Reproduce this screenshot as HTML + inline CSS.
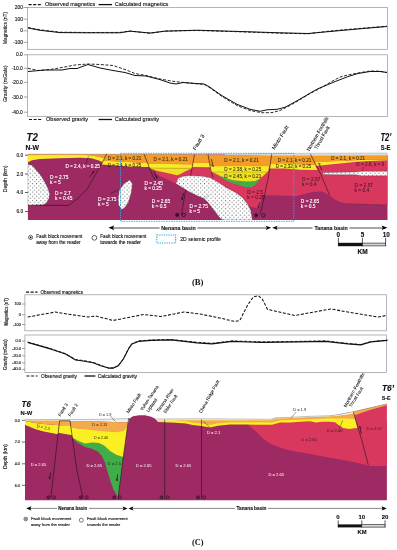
<!DOCTYPE html>
<html lang="en">
<head>
<meta charset="utf-8">
<title>Gravity and magnetic models T2 and T6</title>
<style>
html,body{margin:0;padding:0;background:#fff;}
body{width:397px;height:550px;overflow:hidden;}
svg{display:block;}
text{font-family:"Liberation Sans",sans-serif;fill:#111;stroke:#111;stroke-width:0.12px;}
.t{font-size:4.85px;}

.w{fill:#fff;stroke:#fff;}
.k{fill:#2a2116;stroke:#2a2116;stroke-width:0.06px;}
.m{fill:#47122c;stroke:#47122c;stroke-width:0.06px;}
.leg{font-size:5.6px;}
.tick{font-size:4.9px;text-anchor:end;}
.ax{font-size:5.3px;text-anchor:middle;}
.b{font-weight:bold;}
.flt{font-size:4.5px;fill:#000;stroke-width:0.06px;}
.ser{font-family:"Liberation Serif",serif;font-size:8.8px;text-anchor:middle;font-weight:bold;stroke-width:0;}
.f{fill:none;stroke:#111;stroke-width:0.55;}
.c{fill:none;stroke:#111;stroke-width:1;stroke-linejoin:round;}
.d{fill:none;stroke:#111;stroke-width:0.9;stroke-dasharray:3 1.6;stroke-linejoin:round;}
.box{fill:none;stroke:#959595;stroke-width:0.7;}
</style>
</head>
<body>
<svg width="397" height="550" viewBox="0 0 397 550">
<defs>
<pattern id="dots" width="4.2" height="4.2" patternUnits="userSpaceOnUse">
<rect width="4.2" height="4.2" fill="#fff"/>
<circle cx="1" cy="1" r="0.48" fill="#3a3a3a"/>
<circle cx="3.1" cy="3.1" r="0.48" fill="#3a3a3a"/>
</pattern>
<clipPath id="clipB"><rect x="27.7" y="150" width="359.8" height="70"/></clipPath>
<clipPath id="clipC"><rect x="25" y="395" width="361.9" height="105.3"/></clipPath>
</defs>
<rect width="397" height="550" fill="#fff"/>

<!-- ============ PANEL B : magnetics ============ -->
<g id="magB">
<path class="d" d="M28.6 4.6H42" style="stroke-width:1.2"/>
<text class="leg" x="45" y="6.4" textLength="50.2" lengthAdjust="spacingAndGlyphs">Observed magnetics</text>
<path class="c" d="M98.6 4.6H112" style="stroke-width:1.3"/>
<text class="leg" x="114.8" y="6.4" textLength="53.6" lengthAdjust="spacingAndGlyphs">Calculated magnetics</text>
<rect class="box" x="27.4" y="7.5" width="360.1" height="41.8"/>
<path class="f" d="M23.6 7.5H27.4M23.6 19.2H27.4M23.6 30.8H27.4M23.6 42.3H27.4" style="stroke:#666;stroke-width:0.6"/>
<text class="tick" x="23" y="9">200</text>
<text class="tick" x="23" y="20.7">100</text>
<text class="tick" x="23" y="32.3">0</text>
<text class="tick" x="23" y="43.8">-100</text>
<text class="ax" transform="translate(6.8 28) rotate(-90)" textLength="32" lengthAdjust="spacingAndGlyphs">Magnetics (nT)</text>
<path class="c" d="M28 28L40 30.3L60 32.6L90 32.8L120 32.8L130 31.2L150 33L165 31.2L197 30.2L240 31.5L280 32.8L308 33.5L330 31.5L360 28.8L387 26.5"/>
<path class="d" d="M28 27.5L40 29.8L60 32.2L90 32.5L120 32.4L130 31L150 33.3L165 31L197 30.5L240 31.8L280 33.2L308 33.8L330 31L360 28.4L387 26.2"/>
</g>

<!-- ============ PANEL B : gravity ============ -->
<g id="gravB">
<rect class="box" x="27.4" y="54.8" width="360.1" height="61.6"/>
<path class="f" d="M24 54.8H27.4M24 68.2H27.4M24 82.4H27.4M24 97H27.4M24 112.2H27.4" style="stroke:#666;stroke-width:0.6"/>
<text class="tick" x="22.8" y="56.4">0.0</text>
<text class="tick" x="22.8" y="69.8">-10.0</text>
<text class="tick" x="22.8" y="84">-20.0</text>
<text class="tick" x="22.8" y="98.6">-30.0</text>
<text class="tick" x="22.8" y="113.8">-40.0</text>
<text class="ax" transform="translate(7.4 83.8) rotate(-90)" textLength="36.5" lengthAdjust="spacingAndGlyphs">Gravity (mGals)</text>
<path class="c" d="M28 71.5L45 70L62 70L70 68.5L77 68.5L88 64.5L100 68L113 70.5L125 72.5L135 75.5L146 76L160 79.6L170 83L176 84L183 82.5L197 83.6L204 84L209 86.6L222 95.7L237 104.3L250 109.3L260 111.3L267 109.8L277 109.3L285 107.3L297 100.8L310 93.2L318 88.7L335 81.6L348 76.6L358 73.5L370 71.5L380 71.5L387 72.5"/>
<path class="d" d="M28 68.3L38 70.5L50 69.5L62 67.5L75 65L88 64L100 64.5L113 65.5L125 69.5L135 73.5L146 75.5L160 79L175 81.6L197 83.8L204 84.3L209 87.2L222 96.5L237 105.5L250 110.5L262 112.8L272 112.6L280 110.5L288 106.5L297 101.5L310 93.5L318 89.5L330 82.5L340 77L348 75L358 73L370 71L380 71.2L387 72.5"/>
<path class="d" d="M29 119.5H42" style="stroke-width:1.2"/>
<text class="leg" x="46" y="121.3" textLength="42" lengthAdjust="spacingAndGlyphs">Observed gravity</text>
<path class="c" d="M98.6 119.5H112" style="stroke-width:1.3"/>
<text class="leg" x="114.8" y="121.3" textLength="44.2" lengthAdjust="spacingAndGlyphs">Calculated gravity</text>
</g>

<!-- ============ SECTION B (T2) ============ -->
<g id="secB">
<text x="26.6" y="141.1" class="b" style="font-size:10px;font-style:italic" textLength="11.2" lengthAdjust="spacingAndGlyphs">T2</text>
<text x="25.4" y="150" class="b" style="font-size:6.5px" textLength="13.7" lengthAdjust="spacingAndGlyphs">N-W</text>
<text x="380.4" y="141" class="b" style="font-size:10px;font-style:italic" textLength="11" lengthAdjust="spacingAndGlyphs">T2’</text>
<text x="380.8" y="149.8" class="b" style="font-size:6.5px" textLength="9.6" lengthAdjust="spacingAndGlyphs">S-E</text>
<text class="flt" style="font-size:5.2px" transform="translate(195.4 150.6) rotate(-58)" textLength="17.6" lengthAdjust="spacingAndGlyphs">Fault 3</text>
<text class="flt" style="font-size:5.2px" transform="translate(274.6 149.8) rotate(-58)" textLength="26.8" lengthAdjust="spacingAndGlyphs">Minto Fault</text>
<text class="flt" style="font-size:5.2px" transform="translate(309.6 151.2) rotate(-60)" textLength="38.3" lengthAdjust="spacingAndGlyphs">Northern Foothills</text>
<text class="flt" style="font-size:5.2px" transform="translate(317 149.8) rotate(-60)" textLength="25.8" lengthAdjust="spacingAndGlyphs">Thrust Fault</text>

<path class="f" d="M25 155.2H28M25 174H28M25 192.5H28M25 211.5H28" style="stroke:#333;stroke-width:0.8"/>
<text class="tick" x="23.2" y="156.8">0.0</text>
<text class="tick" x="23.2" y="175.6">2.0</text>
<text class="tick" x="23.2" y="194.1">4.0</text>
<text class="tick" x="23.2" y="213.1">6.0</text>
<text class="ax" transform="translate(7.4 178.9) rotate(-90)" textLength="27.2" lengthAdjust="spacingAndGlyphs">Depth (km)</text>

<g clip-path="url(#clipB)">
<!-- base purple -->
<rect x="27.7" y="154.4" width="361" height="66" fill="#9e2a64"/>
<!-- pink regions -->
<path fill="#d9385e" d="M149.6 168L159.8 176L170 180.8L175.9 183.8L183 188L190.5 192L200.5 196L209 202L217 212L224 220L255.5 220L258 214L260 205L262 195L297 196L312 192L322 191.3L329.7 195.4L334.8 199.6L340 202L347.4 203.8L388 205L388 155L149 155Z"/>
<path fill="#9e2a64" d="M248.6 206L253 207.4L261.4 207.8L259 220L252 220Z"/>
<!-- far left yellow + orange -->
<path fill="#f7ec2a" d="M27.7 155L60 154.8L80 154.8L91.3 155.3L98.9 156.7L102.7 157.7L105 158.1L102.7 162.3L98.9 160.6L91.3 158.3L80 157.7L60 158.2L40 159L32 160.2L27.7 162.6Z"/>
<path fill="#f39c28" d="M27.7 154.2L107 154.2L105 158.3L102.7 157.9L98.9 156.9L91.3 155.5L80 155L60 155L27.7 155.3Z"/>
<!-- between fault A and fault 3a -->
<path fill="#f7ec2a" d="M103.4 160.5L125 161.7L144 162.7L147.5 162.9L149.2 167L144 166.9L130 166.4L101.6 164.4Z"/>
<path fill="#f39c28" d="M106.8 154.2L144 154.2L147.6 163.1L144 162.9L125 161.9L103.3 160.7Z"/>
<!-- basin 1 (x145-194) -->
<path fill="#f7ec2a" d="M147.8 163.8L192.8 164.2L192 168.4L149.6 168.1Z"/>
<path fill="#efe021" d="M149.6 168L192 168.3L189.8 169.2L184 172L180 174.3L177 175.2L172.7 174.2L165 172.6L157.6 170.9L152 168.9Z"/>
<path d="M150 168.1L191.6 168.3" stroke="#6b5d10" stroke-width="0.3" fill="none"/>
<path fill="#f39c28" d="M144 154.3L194.5 154.5L192.7 164.4L180 164.3L165 164.1L148 164Z"/>
<!-- x194-208 -->
<path fill="#f7ec2a" d="M193 162.5L209.6 162.7L210.4 167.3L192.2 167.1Z"/>
<path fill="#f39c28" d="M194.4 154.5L208 154.6L209.6 162.9L193 162.7Z"/>
<!-- main basin (x208-272) -->
<path fill="#3fae49" d="M216.3 173.9L220 175.5L226.5 178.1L233.1 180.1L246.2 181.4L255.3 180.8L260.2 178.4L258.6 180.8L255.3 184.7L251.4 187.3L246.2 187.3L239.6 185.3L233.1 183.4L226.5 180.8L220 176.8Z"/>
<path fill="#efe021" d="M211 171.8L267.6 171.8L264.2 175.1L260.2 178.6L255.3 181L246.2 181.6L233.1 180.3L226.5 178.3L220 175.7L216.3 174.1L212.6 172.2Z"/>
<path fill="#f7ec2a" d="M210 166L269.3 166.1L268.2 171.1L267.4 172L211 172Z"/>
<path d="M211 172L267.4 172" stroke="#6b5d10" stroke-width="0.3" fill="none"/>
<path fill="#f39c28" d="M208 154.6L225 155.1L256 155.5L271.5 155.6L270.2 166.2L210 166.2Z"/>
<!-- between Minto and NFT -->
<path fill="#f7ec2a" d="M270.4 163.6L285 163.2L300 164.3L314.8 164.6L317.4 169.9L300 169.8L285 168.5L269.8 168.5Z"/>
<path fill="#f39c28" d="M271.5 155.7L310.8 155.6L315 164.8L300 164.5L285 163.4L270.4 163.8Z"/>
<!-- right of NFT -->
<path fill="#f7ec2a" d="M314.2 162.2L320 161.7L340 160.7L360 159.9L388 159.5L388 160.2L370 160.9L360 161.6L340 163.6L320 165.6L316 166Z"/>
<path fill="#f39c28" d="M310.8 155.5L388 155.3L388 159.6L360 160.1L340 160.9L320 161.9L314 162.4Z"/>
<!-- gray topography band on right -->
<path fill="#dcdcdc" d="M225 154.1L256 153.8L300 153.5L388 153.3L388 155.4L310 155.7L271.5 155.8L256 155.6L225 155.1Z"/>
<!-- white dotted bodies -->
<path fill="url(#dots)" stroke="#333" stroke-width="0.3" d="M27.7 164.6L31.7 165L35.2 168.8L40.5 174.9L45.1 182.6L48.1 188.7L49.7 194L48.9 198.6L46.6 202.4L43.6 204.7L27.7 205.3Z"/>
<path fill="url(#dots)" stroke="#333" stroke-width="0.3" d="M129.8 180.1L132.4 184L131.2 193L128.4 202.2L124.4 208L121.6 209.5L118.6 205L118.2 198L119.4 190.3L124 183.5Z"/>
<path fill="url(#dots)" stroke="#333" stroke-width="0.3" d="M175.9 183.6L177.9 178.4L181.8 176.4L189.6 175.6L202.7 176.2L209.3 177.5L214.5 180.1L220 183.6L227.9 188.4L235.7 192.4L242.3 197.5L247.5 203.9L250.8 210.4L252.3 220L223 220L220 218.1L215.8 212.8L211.9 207.6L208 202.4L204 198.4L196.2 195.2L189.6 191.9L183.1 188Z"/>
<path fill="url(#dots)" stroke="#333" stroke-width="0.3" d="M323 172.6L340 172.2L356 172L361 171.3L388 171.3L388 175.8L361 175.8L356 174.8L340 174.8L323 174.6Z"/>
<!-- thin top gray line -->
<path d="M27.7 154.1L240 154.1L256 153.8L300 153.3L388 153.1" stroke="#9a9a9a" stroke-width="0.5" fill="none"/>
<!-- faults -->
<path class="f" d="M106.6 153.9L102 163.1L98.1 169.6L92.9 178.8L87 189.3L77.9 198.4L70 204.3L68.4 205.4L44 205.4"/>
<path class="f" d="M44 205.4L27.7 205.4" stroke-dasharray="1.4 1"/>
<path class="f" d="M88.4 156.4L86.2 164" style="stroke-width:0.4"/>
<path class="f" d="M144 154.2L151.9 174L155.4 180.4"/>
<path class="f" d="M194.5 154.4L190.6 176"/>
<path class="f" d="M208 154.4L210.7 169.4L213 177.6"/>
<path class="f" d="M185.6 190.3L181.4 215"/>
<path class="f" d="M271.7 154L268.6 176L265.2 192L260.4 214"/>
<path class="f" d="M310.4 154L320.7 174L328.5 192.6L329.7 195"/>
<path class="f" d="M347.4 203.8L388 205" stroke-dasharray="1.2 1.2" style="stroke-width:0.4"/>
<path class="f" d="M110 193.8L118.4 189.6" style="stroke-width:0.4"/>
<path class="f" d="M201.4 200.4L209.3 194.5" style="stroke-width:0.35;stroke:#555"/>
<path class="f" d="M363.7 166.8L362 171.4" style="stroke-width:0.35"/>
<!-- half arrows -->
<path class="f" d="M89.6 176.8L94.4 171.4L91.8 172.6" style="stroke-width:0.7"/>
<path class="f" d="M153.8 171.2L157 178.6L156.8 175.6" style="stroke-width:0.7"/>
<path class="f" d="M211.4 159.2L213.3 166.7L211.4 164.6" style="stroke-width:0.7"/>
<path class="f" d="M183.4 193L182.2 200L181.2 197.4" style="stroke-width:0.7"/>
<path class="f" d="M321.8 170.2L318.6 163.2L320.6 164" style="stroke-width:0.65"/>
<path class="f" d="M259.4 202.2L258.6 207.8L257.8 205.6" style="stroke-width:0.6"/>
<!-- in/out symbols -->
<g fill="none" stroke="#111" stroke-width="0.7">
<circle cx="177.2" cy="214.9" r="1.7"/><circle cx="183.6" cy="214.9" r="1.7"/>
<circle cx="256.2" cy="215.3" r="1.7"/><circle cx="263.4" cy="215.3" r="1.7"/>
</g>
<circle cx="177.2" cy="214.9" r="0.9"/><circle cx="256.2" cy="215.3" r="0.9"/>
<!-- labels -->
<text class="t w" x="65.4" y="168.4" textLength="34.6" lengthAdjust="spacingAndGlyphs">D = 2.4, k = 0.25</text>
<text class="t w" x="50" y="178.6">D = 2.75</text>
<text class="t w" x="50" y="183.8">k = 5</text>
<text class="t w" x="55" y="195">D = 2.7</text>
<text class="t w" x="55" y="200.2">k = 0.45</text>
<text class="t w" x="98" y="200.8">D = 2.75</text>
<text class="t w" x="98" y="206">k = 5</text>
<text class="t w" x="144.4" y="184.8">D = 2.45</text>
<text class="t w" x="144.4" y="190">k = 0.25</text>
<text class="t w" x="151.8" y="202.5">D = 2.65</text>
<text class="t w" x="151.8" y="207.7">k = 0.5</text>
<text class="t w" x="189.4" y="207.8">D = 2.75</text>
<text class="t w" x="189.4" y="213">k = 5</text>
<text class="t k" x="107.8" y="159.6" textLength="33.4" lengthAdjust="spacingAndGlyphs">D = 2.1, k = 0.21</text>
<text class="t k" x="107.8" y="166.6" textLength="33.4" lengthAdjust="spacingAndGlyphs">D = 2.4, k = 0.25</text>
<text class="t k" x="153.6" y="161" textLength="34.2" lengthAdjust="spacingAndGlyphs">D = 2.1, k = 0.21</text>
<text class="t k" x="224.3" y="162.2" textLength="34.5" lengthAdjust="spacingAndGlyphs">D = 2.1, k = 0.21</text>
<text class="t k" x="224.3" y="170.9" textLength="37" lengthAdjust="spacingAndGlyphs">D = 2.38, k = 0.25</text>
<text class="t k" x="224.3" y="177.6" textLength="37" lengthAdjust="spacingAndGlyphs">D = 2.45, k = 0.21</text>
<text class="t m" x="247.3" y="193.6">D = 2.5</text>
<text class="t m" x="247.3" y="198.9">k = 0.25</text>
<text class="t k" x="277.7" y="161.8" textLength="33.5" lengthAdjust="spacingAndGlyphs">D = 2.1, k = 0.21</text>
<text class="t k" x="275.8" y="168.4" textLength="35.4" lengthAdjust="spacingAndGlyphs">D = 2.32, k = 0.25</text>
<text class="t k" x="331.3" y="159.6" textLength="33.8" lengthAdjust="spacingAndGlyphs">D = 2.1, k = 0.21</text>
<text class="t m" x="356.3" y="165.8" textLength="27.8" lengthAdjust="spacingAndGlyphs">D = 2.8, k = 9</text>
<text class="t m" x="301.9" y="180.6">D = 2.57</text>
<text class="t m" x="301.9" y="185.6">k = 0.4</text>
<text class="t m" x="354.6" y="187.2">D = 2.57</text>
<text class="t m" x="354.6" y="192.3">k = 0.4</text>
<text class="t w" x="300.8" y="202.8">D = 2.65</text>
<text class="t w" x="300.8" y="208">k = 0.5</text>
</g>
<!-- seismic box -->
<rect x="120.5" y="153.3" width="173.3" height="68" fill="none" stroke="#2aa7e1" stroke-width="0.9" stroke-dasharray="1.5 1"/>
<!-- basin arrows -->
<path d="M112 228H159.6M197.4 228H267" stroke="#222" stroke-width="0.8" fill="none"/>
<path d="M108.4 227.8L114.2 225.6L113 227.8L114.2 230Z"/>
<path d="M271.2 227.8L265.8 225.7L266.9 227.8L265.8 229.9Z"/>
<path d="M272.2 227.8L277.6 225.7L276.5 227.8L277.6 229.9Z"/>
<path d="M276 228H312.6M349.4 228H383" stroke="#222" stroke-width="0.8" fill="none"/>
<path d="M387.4 227.8L381.6 225.6L382.8 227.8L381.6 230Z"/>
<text x="161.3" y="229.8" class="b" style="font-size:6.2px" textLength="34.4" lengthAdjust="spacingAndGlyphs">Nenana basin</text>
<text x="314.4" y="229.8" class="b" style="font-size:6.2px" textLength="33.4" lengthAdjust="spacingAndGlyphs">Tanana basin</text>
<!-- legend -->
<circle cx="30.6" cy="237.4" r="2.1" fill="#fff" stroke="#111" stroke-width="0.6"/><circle cx="30.6" cy="237.4" r="0.9"/>
<text class="t" x="36.2" y="238.4" textLength="46.2" lengthAdjust="spacingAndGlyphs">Fault block movement</text>
<text class="t" x="36.2" y="244" textLength="44.4" lengthAdjust="spacingAndGlyphs">away from the reader</text>
<circle cx="94.4" cy="237.8" r="2.4" fill="#fff" stroke="#111" stroke-width="0.65"/>
<text class="t" x="100.2" y="238.4" textLength="46.2" lengthAdjust="spacingAndGlyphs">Fault block movement</text>
<text class="t" x="100.2" y="244" textLength="40.8" lengthAdjust="spacingAndGlyphs">towards the reader</text>
<rect x="156.8" y="234.9" width="18.8" height="8" fill="none" stroke="#29abe2" stroke-width="1.05" stroke-dasharray="1.3 1"/>
<text x="180.2" y="241.2" style="font-size:5.7px" textLength="40.6" lengthAdjust="spacingAndGlyphs">2D seismic profile</text>
<!-- scale bar -->
<text x="338.2" y="237.3" class="b" style="font-size:6.3px;text-anchor:middle">0</text>
<text x="362.4" y="237.3" class="b" style="font-size:6.3px;text-anchor:middle">5</text>
<text x="386.3" y="237.3" class="b" style="font-size:6.3px;text-anchor:middle">10</text>
<path d="M338.4 237.8V246.2M362.4 237.8V246.2M385.6 237.8V246.2" stroke="#111" stroke-width="0.7" fill="none"/>
<rect x="338.2" y="242.8" width="24.2" height="3.4" fill="#111"/>
<rect x="362.4" y="243.1" width="23.2" height="2.8" fill="#d8d8d8" stroke="#111" stroke-width="0.6"/>
<text x="362.6" y="254" class="b" style="font-size:6.6px;text-anchor:middle">KM</text>
<text class="ser" x="197.7" y="285.1" textLength="11.6" lengthAdjust="spacingAndGlyphs">(B)</text>
</g>


<!-- ============ PANEL C : magnetics ============ -->
<g id="magC">
<path class="d" d="M26 292.1H37.5" style="stroke-width:1.2"/>
<text class="leg" x="40.5" y="293.8" textLength="42.5" lengthAdjust="spacingAndGlyphs" style="font-size:4.8px">Observed magnetics</text>
<rect class="box" x="24.9" y="294.8" width="361.7" height="36"/>
<path class="f" d="M22 304H24.9M22 314.7H24.9M22 324.5H24.9" style="stroke:#666;stroke-width:0.6"/>
<text class="tick" x="20.8" y="305.4" style="font-size:3.8px">100</text>
<text class="tick" x="20.8" y="316.1" style="font-size:3.8px">0</text>
<text class="tick" x="20.8" y="325.9" style="font-size:3.8px">-100</text>
<text class="ax" transform="translate(8.2 311.8) rotate(-90)" style="font-size:4.6px" textLength="27.6" lengthAdjust="spacingAndGlyphs">Magnetics (nT)</text>
<path class="d" style="stroke-width:1.05" d="M27.7 317L55.4 312L70.5 314.5L88 317L95.7 316L113 320.5L143.6 314.5L161 316.5L184 312L200 314L219.7 318L234.8 321.5L239.8 320.5L247.4 305.4L253.4 296.8L258.5 295.8L262.5 299.4L267.5 309.4L295 315.5L330.5 309L348 312L378.4 317L386 315.5"/>
</g>
<!-- ============ PANEL C : gravity ============ -->
<g id="gravC">
<rect class="box" x="24.9" y="335" width="361.7" height="37.5"/>
<path class="f" d="M22 341H24.9M22 348.5H24.9M22 355.8H24.9M22 362.8H24.9M22 369.4H24.9" style="stroke:#666;stroke-width:0.6"/>
<text class="tick" x="20.8" y="342.4" style="font-size:3.8px">0.0</text>
<text class="tick" x="20.8" y="349.9" style="font-size:3.8px">-10.0</text>
<text class="tick" x="20.8" y="357.2" style="font-size:3.8px">-20.0</text>
<text class="tick" x="20.8" y="364.2" style="font-size:3.8px">-30.0</text>
<text class="tick" x="20.8" y="370.4" style="font-size:3.8px">-40.0</text>
<text class="ax" transform="translate(7.2 354.7) rotate(-90)" style="font-size:4.6px" textLength="30.6" lengthAdjust="spacingAndGlyphs">Gravity (mGals)</text>
<path class="c" transform="translate(0 0.7)" d="M27.7 341.7L50.4 348.2L65.5 353.3L75.6 359.3L83 360.3L93 362L100.8 365L108.3 367.4L113.4 367.4L118.4 365L123.4 358.3L128.5 348.2L132 343.2L138.5 340.7L151 339.7L171.3 339.2L197 342.2L212 343.2L232 340.7L262.5 341.7L297.8 341.2L325.5 340.7L348 343.2L360.7 344.2L370.8 341.2L387.4 339.7" style="stroke-width:1.1"/>
<path class="d" transform="translate(0 0.7)" d="M27.7 341.4L50.4 347.8L65.5 352.9L75.6 358.8L83 359.8L93 361.6L100.8 364.6L108.3 367.2L113.4 367.2L118.4 364.6L123.4 358L128.5 347.8L132 342.8L138.5 340.2L151 339.3L171.3 338.8L197 341.6L212 342.6L232 340.2L262.5 341.2L297.8 340.7L325.5 340.2L348 342.8L360.7 343.8L370.8 341L387.4 339.4"/>
<path class="d" d="M26.5 376H37.5" style="stroke-width:1.2"/>
<text class="leg" x="41" y="377.6" textLength="36" lengthAdjust="spacingAndGlyphs" style="font-size:4.8px">Observed gravity</text>
<path class="c" d="M84.5 376H95.4" style="stroke-width:1.3"/>
<text class="leg" x="97.8" y="377.6" textLength="39.2" lengthAdjust="spacingAndGlyphs" style="font-size:4.8px">Calculated gravity</text>
</g>


<!-- ============ SECTION C (T6) ============ -->
<g id="secC">
<text x="21.6" y="406.6" class="b" style="font-size:8.6px;font-style:italic" textLength="9.2" lengthAdjust="spacingAndGlyphs">T6</text>
<text x="20.6" y="414.8" class="b" style="font-size:5.6px" textLength="11.6" lengthAdjust="spacingAndGlyphs">N-W</text>
<text x="382" y="391.3" class="b" style="font-size:8.6px;font-style:italic" textLength="12" lengthAdjust="spacingAndGlyphs">T6’</text>
<text x="381.8" y="399.8" class="b" style="font-size:6px" textLength="8.8" lengthAdjust="spacingAndGlyphs">S-E</text>
<text class="flt" style="font-size:4.5px" transform="translate(60.4 416.8) rotate(-58)" textLength="14.6" lengthAdjust="spacingAndGlyphs">Fault 3</text>
<text class="flt" style="font-size:4.5px" transform="translate(70.6 416.8) rotate(-58)" textLength="14.2" lengthAdjust="spacingAndGlyphs">Fault 2</text>
<text class="flt" style="font-size:4.5px" transform="translate(128.8 413.6) rotate(-57)" textLength="22.7" lengthAdjust="spacingAndGlyphs">Minto Fault</text>
<text class="flt" style="font-size:4.5px" transform="translate(142.4 411) rotate(-56)" textLength="29" lengthAdjust="spacingAndGlyphs">Yukon-Tanana</text>
<text class="flt" style="font-size:4.5px" transform="translate(148.8 412.4) rotate(-56)" textLength="15.4" lengthAdjust="spacingAndGlyphs">Upland</text>
<text class="flt" style="font-size:4.5px" transform="translate(158.8 412.4) rotate(-56)" textLength="27.3" lengthAdjust="spacingAndGlyphs">Tanana River</text>
<text class="flt" style="font-size:4.5px" transform="translate(165.8 413.6) rotate(-56)" textLength="21.3" lengthAdjust="spacingAndGlyphs">Eisler Fault</text>
<text class="flt" style="font-size:4.5px" transform="translate(201.6 413.6) rotate(-61)" textLength="37.2" lengthAdjust="spacingAndGlyphs">Chena Ridge Fault</text>
<text class="flt" style="font-size:4.5px" transform="translate(346.2 407.4) rotate(-61)" textLength="38.2" lengthAdjust="spacingAndGlyphs">Northern Foothills</text>
<text class="flt" style="font-size:4.5px" transform="translate(351.4 407.4) rotate(-58)" textLength="22.7" lengthAdjust="spacingAndGlyphs">Thrust Fault</text>

<path class="f" d="M21.9 420.3H25M21.9 442H25M21.9 463.8H25M21.9 485.3H25" style="stroke:#333;stroke-width:0.7"/>
<text class="tick" x="19.9" y="421.6" style="font-size:3.7px">0.0</text>
<text class="tick" x="19.9" y="443.3" style="font-size:3.7px">2.0</text>
<text class="tick" x="19.9" y="465.1" style="font-size:3.7px">4.0</text>
<text class="tick" x="19.9" y="486.5" style="font-size:3.7px">6.0</text>
<text class="ax" transform="translate(6.8 456.7) rotate(-90)" style="font-size:4.6px" textLength="24.6" lengthAdjust="spacingAndGlyphs">Depth (km)</text>

<g clip-path="url(#clipC)">
<!-- base purple below surface -->
<path fill="#9e2a64" d="M24.4 420.6L128.6 420.6L129 418.8L133 416.2L139 415.2L145 415.2L151.2 416.8L155.2 418.8L156.9 420.6L200 421L245 422L388 422L388 501L24.4 501Z"/>
<!-- pink region -->
<path fill="#d9385e" d="M246.4 423L251 427.5L256 431.5L261 436.5L266 441L271 444L276 446L283 448.4L290 450.4L297 451.8L309.6 453.8L322 456.2L334.8 458.6L347.4 460.8L360 463.4L368.8 465.7L377.6 466.2L388 465.7L388 403.6L353.3 411.8L330 416L290 418L270 420L246 420Z"/>
<!-- gray surface band (D = 1.9) -->
<path fill="#f2f2f2" d="M24.4 419.4L100 419.2L128.8 418.4L128.6 422.6L100 421.6L24.4 421.2Z"/>
<path fill="#f2f2f2" d="M156.6 418.8L201 418.6L270 419.2L276 417.6L290 417.2L310.3 416.2L330.5 415.6L337.2 414.7L347.2 412.7L353.3 411.6L354 414L347 415L337 416.2L330.5 417L310 417.6L290 418.6L276 419L270 420.8L156.9 420.8Z"/>
<!-- left of Fault 3 -->
<path fill="#f9ef22" d="M24.4 420.8L35 423L42.7 424L50.2 424.6L59 425.2L57.9 434.2L50.2 432.7L42.7 431.2L35 428.9L29 426.6L24.4 424.8Z"/>
<path fill="#f3a94c" d="M24.4 420.4L59.5 420.4L59 425.3L50.2 424.6L42.7 424L35 423L24.4 420.8Z"/>
<!-- horst -->
<path fill="#f9ef22" d="M59 425.2L70.8 425.2L72.4 435.2L58 432.8Z"/>
<path fill="#f3a94c" d="M59.5 420.6L70 420.6L70.8 425.4L59 425.4Z"/>
<!-- main Nenana basin C -->
<path fill="#3fae49" d="M72.4 437L77 440L81 441.8L85 443.2L92.6 442.3L99 442.8L104.1 445.3L110.4 451L116.8 454.8L123.3 456.7L118.7 493.6L117.8 497.4L116.8 494.9L113.6 489.8L110.4 480.9L107.3 470.7L104.7 461.8L101.5 455.4L97.7 451.6L92.6 449.1L85 447L77 442.4L72.6 438.2Z"/>
<path fill="#f9ef22" d="M70.8 426.8L77 428.3L85 428.8L95 429.8L105.4 430.8L115.5 430.8L123.5 429.6L127.6 425.8L123.3 456.9L116.8 455L110.4 451.2L104.1 445.5L99 443L92.6 442.5L85 443.4L81 442L77 440.2L72.4 437.2Z"/>
<path fill="#f3a94c" d="M70.2 421L100 421.6L128.4 422.4L127.4 427L123.5 431L115.5 432.2L105.4 431.6L95 430.4L85 429.2L77 428.5L71 427Z"/>
<!-- yellow + orange band over Tanana side -->
<path fill="#f9ef22" d="M157 420.4L175 420.4L270 420.6L276 418.8L290 418.4L310 417.4L330.5 416.8L337 416.2L347 415L353.9 413.8L357.4 428L354.3 428.2L349.3 429L343.2 428L339.2 425.4L335 422.3L329 421.7L322 421.8L316 422.4L310 421.2L300 421.8L290 422.6L280 422.6L272 424.8L255 424.8L245 424.6L230 424.5L217.8 425.8L210.2 427.4L201.4 426.1L192.6 424.9L186 423.6L175.4 422.8L158.3 422L157 421.2Z"/>
<path fill="#f3a94c" d="M175 420.3L270 420.4L276 418.6L290 418.2L310 417.2L330.5 416.6L337 415.9L347 414.7L353.7 413.4L355.2 419L347 418.6L337 418.5L330.5 418.2L310 419.2L290 420L280 420.2L272 422.4L255 422.3L230 422.3L217.8 423.2L210.2 425.1L201.4 423.6L192.6 422.6L186 421.3L175 420.6Z"/>
<path fill="#f3a94c" d="M353.5 411.8L388 403.5L388 405L370 410L354.5 415.2Z"/>
<!-- gray surface line -->
<path d="M24.4 419.6L100 419.4L128.6 418.6M156.6 419L201 418.8L270 419.3L276 417.7L290 417.3L310.3 416.3L330.5 415.7L337.2 414.8L347.2 412.8L353.3 411.7L388 403.7" stroke="#9a9a9a" stroke-width="0.6" fill="none"/>
<!-- faults -->
<path class="f" d="M59.6 420.6L50.8 498M70 420.6L76.8 470L83 498M59.6 420.8H70"/>
<path class="f" d="M128.7 418L123.3 456.7L118.2 497.4"/>
<path class="f" d="M164.7 419.6V499"/>
<path class="f" d="M201.5 419.4V499"/>
<path class="f" d="M353.3 412.2L361.8 440L368.3 465.2"/>
<path class="f" d="M110.4 416L115.5 421.7" style="stroke-width:0.4"/>
<path class="f" d="M296.2 412L291 418.2" style="stroke-width:0.4"/>
<path class="f" d="M203.3 421.3L210.2 427.6" style="stroke-width:0.4"/>
<path class="f" d="M339.6 428.3L342.6 420.2" style="stroke-width:0.4"/>
<!-- arrows -->
<path class="f" d="M50.6 472.6L49.8 479.2L49 476.6" style="stroke-width:0.7"/>
<path class="f" d="M117.6 474.4L117.2 481L116 478.4" style="stroke-width:0.7"/>
<path class="f" d="M361.3 433.7L359.6 426.3L361.2 428.4" style="stroke-width:0.7"/>
<!-- symbols -->
<g fill="none" stroke="#111" stroke-width="0.55">
<circle cx="48.4" cy="497.3" r="1.5"/><circle cx="54" cy="497.3" r="1.5"/>
<circle cx="80.8" cy="497.3" r="1.5"/><circle cx="86.6" cy="497.3" r="1.5"/>
<circle cx="114.2" cy="497.3" r="1.5"/><circle cx="120" cy="497.3" r="1.5"/>
<circle cx="161.5" cy="497.3" r="1.5"/><circle cx="167.6" cy="497.3" r="1.5"/>
<circle cx="198" cy="497.3" r="1.5"/><circle cx="204.2" cy="497.3" r="1.5"/>
</g>
<path class="f" style="stroke-width:0.55" d="M47.4 496.3L49.4 498.3M49.4 496.3L47.4 498.3M79.8 496.3L81.8 498.3M81.8 496.3L79.8 498.3M113.2 496.3L115.2 498.3M115.2 496.3L113.2 498.3M160.5 496.3L162.5 498.3M162.5 496.3L160.5 498.3M197.0 496.3L199.0 498.3M199.0 496.3L197.0 498.3"/>
<!-- labels -->
<text class="t w" style="font-size:4.1px;stroke-width:0" x="30.7" y="465.8">D = 2.65</text>
<text class="t w" style="font-size:4.1px;stroke-width:0" x="86.4" y="467.4">D = 2.65</text>
<text class="t w" style="font-size:4.1px;stroke-width:0" x="136" y="467.4">D = 2.65</text>
<text class="t w" style="font-size:4.1px;stroke-width:0" x="175.6" y="467.4">D = 2.65</text>
<text class="t w" style="font-size:4.1px;stroke-width:0" x="268.5" y="476.2">D = 2.65</text>
<text class="t w" style="font-size:4.1px;stroke-width:0" x="207" y="434.4">D = 2.1</text>
<text class="t m" style="font-size:4.1px;stroke-width:0" x="366.4" y="430.4">D = 2.57</text>
<text class="t k" style="font-size:4.1px;stroke-width:0" x="107.6" y="465.4">D = 2.5</text>
<text class="t k" style="font-size:4.1px;stroke-width:0" x="36.6" y="427.2" transform="rotate(13 36.6 427.2)">D = 2.3</text>
<text class="t k" style="font-size:4.1px;stroke-width:0" x="92.3" y="425.9" textLength="15" lengthAdjust="spacingAndGlyphs">D = 2.15</text>
<text class="t k" style="font-size:4.1px;stroke-width:0" x="94" y="439.2" textLength="14" lengthAdjust="spacingAndGlyphs">D = 2.40</text>

<text class="t k" style="font-size:4.1px;stroke-width:0" x="327" y="431.8">D = 2.40</text>
<text class="t m" style="font-size:4.1px;stroke-width:0" x="301.3" y="441.4">D = 2.60</text>
</g>
<text class="t k" style="font-size:4.1px;stroke-width:0" x="293.2" y="411.2" textLength="13" lengthAdjust="spacingAndGlyphs">D = 1.9</text>
<text class="t k" style="font-size:4.1px;stroke-width:0" x="99" y="415.6" textLength="12.4" lengthAdjust="spacingAndGlyphs">D = 1.9</text>
<!-- basin arrows -->
<path d="M30 508.4H57M89 508.4H123.6M132.4 508.4H235M268 508.4H384" stroke="#111" stroke-width="0.5" fill="none"/>
<path d="M26.2 508.4L31.4 506.3L30.4 508.4L31.4 510.5Z"/>
<path d="M127.6 508.4L122.6 506.4L123.6 508.4L122.6 510.4Z"/>
<path d="M128.4 508.4L133.4 506.4L132.4 508.4L133.4 510.4Z"/>
<path d="M386.8 508.4L381.6 506.3L382.6 508.4L381.6 510.5Z"/>
<text x="58.2" y="510.2" class="b" style="font-size:4.8px" textLength="29" lengthAdjust="spacingAndGlyphs">Nenana basin</text>
<text x="236.5" y="510.2" class="b" style="font-size:4.8px" textLength="30" lengthAdjust="spacingAndGlyphs">Tanana basin</text>
<!-- legend -->
<circle cx="25.7" cy="519" r="1.8" fill="#fff" stroke="#111" stroke-width="0.55"/>
<path class="f" d="M24.5 517.8L26.9 520.2M26.9 517.8L24.5 520.2" style="stroke-width:0.55"/>
<text class="t" style="font-size:4.2px" x="30.9" y="520.3" textLength="40.5" lengthAdjust="spacingAndGlyphs">Fault block movement</text>
<text class="t" style="font-size:4.2px" x="30.9" y="525.6" textLength="39" lengthAdjust="spacingAndGlyphs">away from the reader</text>
<circle cx="81.3" cy="520.2" r="2" fill="#fff" stroke="#111" stroke-width="0.55"/>
<text class="t" style="font-size:4.2px" x="87.1" y="520.3" textLength="40.5" lengthAdjust="spacingAndGlyphs">Fault block movement</text>
<text class="t" style="font-size:4.2px" x="87.1" y="525.6" textLength="33.2" lengthAdjust="spacingAndGlyphs">towards the reader</text>
<!-- scale bar -->
<text x="337.8" y="519.2" class="b" style="font-size:6px;text-anchor:middle">0</text>
<text x="361.8" y="519.2" class="b" style="font-size:6px;text-anchor:middle">10</text>
<text x="385" y="519.2" class="b" style="font-size:6px;text-anchor:middle">20</text>
<path d="M338.2 520.4V527.4M361.8 520.4V527.4M385 520.4V527.4" stroke="#111" stroke-width="0.7" fill="none"/>
<rect x="338" y="524.4" width="23.8" height="3" fill="#111"/>
<rect x="361.8" y="524.7" width="23.2" height="2.4" fill="#d8d8d8" stroke="#111" stroke-width="0.6"/>
<text x="362" y="533.6" class="b" style="font-size:5.8px;text-anchor:middle">KM</text>
<text class="ser" x="197.7" y="545.4" textLength="11.6" lengthAdjust="spacingAndGlyphs">(C)</text>
</g>


</svg>
</body>
</html>
